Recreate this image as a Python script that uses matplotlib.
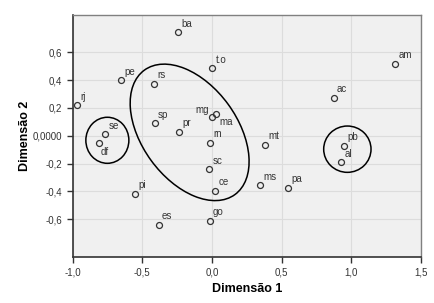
import matplotlib
matplotlib.use("Agg")
import matplotlib.pyplot as plt
from matplotlib.patches import Ellipse

plt.rcParams["font.family"] = ["Liberation Sans", "DejaVu Sans"]

# Estados e coordenadas (Dimensão 1, Dimensão 2)
labels = ["ba", "pe", "rs", "rj", "sp", "pr", "se", "df", "mg", "ma",
          "t.o", "rn", "mt", "ac", "am", "pb", "al", "sc", "ce", "ms",
          "pa", "go", "pi", "es"]
dim1 = [-0.244, -0.654, -0.414, -0.972, -0.412, -0.234, -0.769, -0.812, 0.0, 0.031,
        0.003, -0.012, 0.379, 0.874, 1.313, 0.946, 0.925, -0.022, 0.024, 0.343,
        0.546, -0.017, -0.555, -0.383]
dim2 = [0.744, 0.399, 0.372, 0.219, 0.091, 0.027, 0.012, -0.053, 0.132, 0.158,
        0.485, -0.050, -0.065, 0.273, 0.516, -0.072, -0.189, -0.242, -0.396, -0.355,
        -0.374, -0.612, -0.417, -0.640]

xticks = [-1.0, -0.5, 0.0, 0.5, 1.0, 1.5]
xtick_labels = ["-1,0", "-0,5", "0,0", "0,5", "1,0", "1,5"]
yticks = [-0.6, -0.4, -0.2, 0.0, 0.2, 0.4, 0.6]
ytick_labels = ["-0,6", "-0,4", "-0,2", "0,0000", "0,2", "0,4", "0,6"]

# posições especiais dos rótulos
special = {"mg": (-2, 1.5, "right", "bottom"),
           "ma": (2.5, -2.5, "left", "top"),
           "df": (1, -3, "left", "top")}

fig = plt.figure(figsize=(4.34, 3.03), dpi=100)
ax = fig.add_axes([0.1675, 0.1528, 0.8019, 0.7987])
ax.set_facecolor("#f0f0f0")

ax.set_xlim(-1.0, 1.5)
ax.set_ylim(-0.87, 0.87)
ax.set_xticks(xticks)
ax.set_xticklabels(xtick_labels)
ax.set_yticks(yticks)
ax.set_yticklabels(ytick_labels)
ax.grid(True, color="#dcdcdc", linewidth=0.8)
ax.set_axisbelow(True)

ax.tick_params(labelsize=7, colors="#333333", length=4, width=1)
for side in ["left", "bottom"]:
    ax.spines[side].set_color("#333333")
    ax.spines[side].set_linewidth(1.2)
for side in ["top", "right"]:
    ax.spines[side].set_color("#808080")
    ax.spines[side].set_linewidth(1.0)

ax.plot(dim1, dim2, "o", markersize=4.3, markerfacecolor="none",
        markeredgecolor="#333333", markeredgewidth=0.9)

for lab, x, y in zip(labels, dim1, dim2):
    dx, dy, ha, va = special.get(lab, (2.5, 2.5, "left", "bottom"))
    ax.annotate(lab, (x, y), xytext=(dx, dy), textcoords="offset points",
                ha=ha, va=va, fontsize=7, color="#333333")

# elipses desenhadas à mão
ax.add_patch(Ellipse((-0.751, -0.033), 0.309, 0.331, fill=False,
                     edgecolor="black", linewidth=1.1))
ax.add_patch(Ellipse((-0.160, 0.024), 1.106, 0.685, angle=-54, fill=False,
                     edgecolor="black", linewidth=1.1))
ax.add_patch(Ellipse((0.973, -0.097), 0.34, 0.333, fill=False,
                     edgecolor="black", linewidth=1.1))

ax.set_xlabel("Dimensão 1", fontsize=9, fontweight="bold", labelpad=4)
ax.set_ylabel("Dimensão 2", fontsize=9, fontweight="bold", labelpad=1)

fig.savefig("out.png", dpi=100)
